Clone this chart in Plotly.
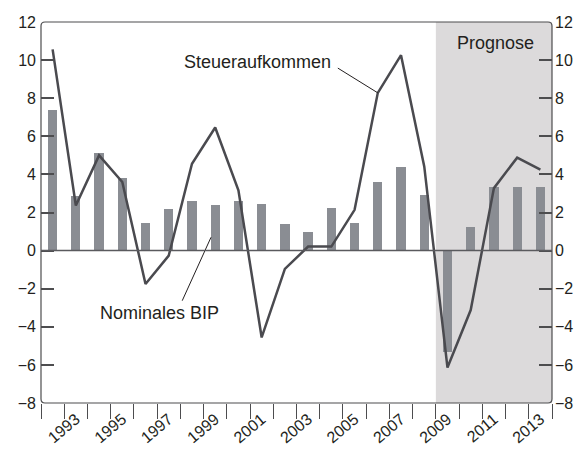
import plotly.graph_objects as go

# Annual growth rates in percent
years = list(range(1992, 2014))
nominales_bip = [7.37, 2.89, 5.14, 3.81, 1.47, 2.16, 2.63, 2.42, 2.58, 2.47, 1.42,
                 1.0, 2.26, 1.47, 3.58, 4.37, 2.91, -5.3, 1.26, 3.33, 3.33, 3.33]
steueraufkommen = [10.56, 2.37, 5.0, 3.6, -1.75, -0.26, 4.56, 6.46, 3.16, -4.56, -0.96,
                   0.21, 0.21, 2.14, 8.28, 10.26, 4.42, -6.14, -3.12, 3.28, 4.88, 4.25]
prognose_start = 2009
y_ticks = list(range(-8, 13, 2))
x_labels = [y for y in years if y % 2 == 1]

FONT = "Liberation Sans, Arial, Helvetica, sans-serif"
TEXT = "#231f20"
AXIS = "#4d4d4f"


def fmt(v):
    return str(v).replace("-", "\u2212")


fig = go.Figure()

fig.add_trace(go.Bar(
    x=years, y=nominales_bip, width=0.4,
    marker=dict(color="#8a8d93", line=dict(width=0)),
    showlegend=False,
))
fig.add_trace(go.Scatter(
    x=years, y=steueraufkommen, mode="lines", yaxis="y2",
    line=dict(color="#4a4a4f", width=2.5),
    showlegend=False,
))

# forecast period shading
fig.add_shape(type="rect", xref="x", yref="paper",
              x0=prognose_start - 0.5, x1=years[-1] + 0.5, y0=0, y1=1,
              fillcolor="#dcdadb", line=dict(width=0), layer="below")

# plot frame with slightly rounded corners (paper coordinates)
rx, ry = 4 / 511, 4 / 381
frame = (f"M {rx},0 L {1 - rx},0 Q 1,0 1,{ry} L 1,{1 - ry} Q 1,1 {1 - rx},1 "
         f"L {rx},1 Q 0,1 0,{1 - ry} L 0,{ry} Q 0,0 {rx},0 Z")
fig.add_shape(type="path", xref="paper", yref="paper", path=frame,
              line=dict(color=AXIS, width=1.2), layer="above")

# leader lines for the series labels
i06 = years.index(2006)
fig.add_shape(type="line", xref="x", yref="y",
              x0=2004.28, y0=9.58, x1=2006, y1=steueraufkommen[i06],
              line=dict(color=TEXT, width=1))
fig.add_shape(type="line", xref="x", yref="y",
              x0=1997.58, y0=-2.63, x1=1998.82, y1=0.7,
              line=dict(color=TEXT, width=1))

fig.add_annotation(x=2000.8, y=9.9, text="Steueraufkommen", showarrow=False,
                   font=dict(size=18, color=TEXT, family=FONT))
fig.add_annotation(x=1996.6, y=-3.25, text="Nominales BIP", showarrow=False,
                   font=dict(size=18, color=TEXT, family=FONT))
fig.add_annotation(x=2011.06, y=10.88, text="Prognose", showarrow=False,
                   font=dict(size=18, color=TEXT, family=FONT))

yax = dict(
    range=[-8, 12], tickvals=y_ticks, ticktext=[fmt(v) for v in y_ticks],
    ticks="inside", ticklen=13, tickwidth=1.5, tickcolor=AXIS,
    showgrid=False, zeroline=False, showline=False,
    tickfont=dict(size=16, color=TEXT, family=FONT), automargin=False,
)

fig.update_layout(
    width=578, height=449,
    margin=dict(l=41, r=26, t=22, b=46),
    paper_bgcolor="white", plot_bgcolor="white",
    bargap=0,
    xaxis=dict(
        range=[years[0] - 0.5, years[-1] + 0.5],
        tickvals=x_labels, ticktext=[str(v) for v in x_labels],
        tickangle=-40, ticks="", ticklabelstandoff=3,
        minor=dict(tick0=years[0] - 0.5, dtick=1, ticks="outside", ticklen=15,
                   tickwidth=1.2, tickcolor=AXIS, showgrid=False),
        showgrid=False, zeroline=False, showline=False, automargin=False,
        tickfont=dict(size=16, color=TEXT, family=FONT),
    ),
    yaxis=dict(**yax, side="left", ticklabelstandoff=4),
    yaxis2=dict(**yax, side="right", overlaying="y", ticklabelstandoff=2),
)

# zero line across the plot
fig.add_hline(y=0, line=dict(color="#5a5a5e", width=1.5), layer="above")

fig.write_html("out.html")
